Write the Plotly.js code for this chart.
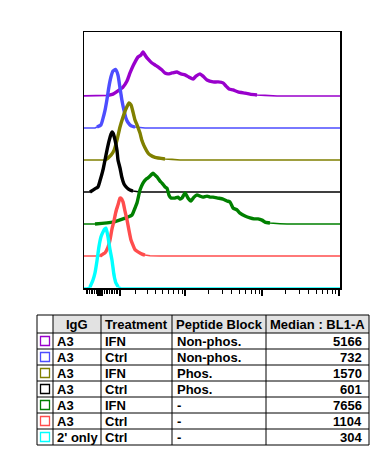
<!DOCTYPE html>
<html>
<head>
<meta charset="utf-8">
<script src="https://cdn.plot.ly/plotly-3.0.1.min.js"></script>
<style>html,body{margin:0;padding:0;background:#fff;}#chart{width:390px;height:466px;}</style>
</head>
<body>
<div id="chart"></div>
<script>
// ---- data (x in display channels 0..256, height in histogram-slot units) ----
const purpleX = [24,29,34,39,43,46,49,51,54,57,59,61,63,66,68,71,74,78,81,84,88,93,97,101,105,109,112,116,119,123,129,134,139,142,145,149,154,161,166,173,181,193];
const purpleY = [0.02,0.06,0.16,0.28,0.47,0.72,0.94,1.06,1.22,1.28,1.38,1.28,1.19,1.09,1.03,0.97,0.91,0.81,0.72,0.69,0.72,0.75,0.69,0.66,0.59,0.53,0.62,0.69,0.62,0.5,0.44,0.44,0.41,0.31,0.22,0.19,0.13,0.09,0.06,0.03,0.02,0];
const blueX = [11,13,17,19,21,23,25,27,29,31.5,34,36,38,40,42,44,47,51,61];
const blueY = [0,0.03,0.1,0.3,0.55,0.9,1.3,1.6,1.78,1.83,1.65,1.25,0.85,0.55,0.3,0.17,0.07,0.03,0];
const oliveX = [21,24,27,30,33,36,39,42,45,47,49,51,53,56,58,61,64,66,71,81,88,96];
const oliveY = [0,0.06,0.15,0.3,0.62,1.03,1.34,1.6,1.78,1.72,1.5,1.25,1.1,0.84,0.6,0.38,0.22,0.16,0.08,0.03,0.02,0];
const blackX = [6,9,12,14,16,19,21,23,25,27,28,29,31,33,34,36,38,40,43,46,49,56];
const blackY = [0,0.06,0.12,0.16,0.35,0.69,1.0,1.31,1.59,1.81,1.88,1.84,1.63,1.3,1.0,0.75,0.44,0.25,0.13,0.06,0.03,0];
const greenX = [11,29,39,44,48,51,53,56,59,62,64,67,69,71,73,76,78,81,83,85,87,89,91,94,96,98,101,104,107,110,113,116,119,123,126,129,134,139,143,146,149,153,156,161,166,170,174,178,181,186,196,203];
const greenY = [0,0.06,0.16,0.22,0.28,0.5,0.66,1.06,1.28,1.4,1.44,1.53,1.59,1.53,1.47,1.34,1.28,1.16,1.12,0.9,0.81,0.81,0.81,0.84,0.78,0.81,0.97,0.81,0.72,0.84,0.91,0.87,0.84,0.87,0.84,0.84,0.81,0.78,0.72,0.69,0.5,0.44,0.34,0.25,0.19,0.16,0.16,0.12,0.06,0.03,0.01,0];
const redX = [16,19,21,24,26,28,30,32,34,36,37,39,41,43,45,47,49,51,54,58,61,66,76];
const redY = [0,0.06,0.1,0.28,0.5,0.85,1.1,1.4,1.6,1.81,1.81,1.69,1.4,1.13,0.8,0.5,0.34,0.2,0.13,0.06,0.03,0.01,0];
const cyanX = [3,6,9,11,13,15,17,19,21,22,24,26,28,30,32,34,37,41];
const cyanY = [0,0.03,0.25,0.47,0.85,1.3,1.6,1.75,1.85,1.87,1.6,1.2,0.87,0.4,0.15,0.04,0.01,0];

const igg = ["A3","A3","A3","A3","A3","A3","2' only"];
const treatment = ["IFN","Ctrl","IFN","Ctrl","IFN","Ctrl","Ctrl"];
const peptide = ["Non-phos.","Non-phos.","Phos.","Phos.","-","-","-"];
const median = ["5166","732","1570","601","7656","1104","304"];
const headers = ["IgG","Treatment","Peptide Block","Median : BL1-A"];
const colors = ["#9900cc","#4d4dff","#808000","#000000","#008000","#ff4d4d","#00ffff"];

const majorTicks = [14.3,16,17.7,36,101,177.7,255.3];
const minorTicks = [2,3.7,5.3,7,8.7,10.3,12,20.3,22,23.7,25.3,27,28.7,30.3,32,33.7,51.7,63.3,71.7,78.3,84.3,89.7,94.7,98.7,124.7,138.3,147.7,155.7,161.7,167,171.7,175,201.7,215.3,224.7,232.7,238.7,243.7,248.3,251.7];

// ---- build ----
const series = [[purpleX,purpleY],[blueX,blueY],[oliveX,oliveY],[blackX,blackY],[greenX,greenY],[redX,redY],[cyanX,cyanY]];
const traces = [];
series.forEach((s, i) => {
  const base = 6 - i;
  const xs = s[0], ys = s[1];
  const tx = [-4].concat(xs, [260]);
  const ty = [base].concat(ys.map(v => base + v), [base]);
  traces.push({type:'scatter', mode:'lines', x:tx, y:ty, line:{color:colors[i], width:1.6}, hoverinfo:'skip', showlegend:false});
  let a = ys.findIndex(v => v >= 0.05);
  let b = ys.length - 1 - ys.slice().reverse().findIndex(v => v >= 0.03);
  a = Math.max(0, a - 1); b = Math.min(ys.length - 1, b);
  traces.push({type:'scatter', mode:'lines', x:xs.slice(a, b + 1), y:ys.slice(a, b + 1).map(v => base + v),
    line:{color:colors[i], width:3.4, shape:'spline', smoothing:0.5}, hoverinfo:'skip', showlegend:false});
});

// table geometry (pixels -> paper coords)
const L = 84, R = 340, T = 32, B = 288;
const X = px => (px - L) / (R - L);
const Y = py => (B - py) / (B - T);
const colEdges = [37, 53, 101, 172, 266, 369];
const tTop = 315, hBot = 333, rowH = 16;
const shapes = [];
const annotations = [];
const FONT = {family:'"Liberation Sans", Arial, sans-serif', size:13, color:'#000'};
shapes.push({type:'rect', xref:'paper', yref:'paper', x0:X(53), x1:X(369), y0:Y(hBot), y1:Y(tTop), fillcolor:'#e2e2e2', line:{width:0}, layer:'below'});
const tBot = hBot + rowH * igg.length;
for (let r = 0; r <= igg.length; r++) {
  const py = hBot + r * rowH;
  shapes.push({type:'line', xref:'paper', yref:'paper', x0:X(37), x1:X(369), y0:Y(py), y1:Y(py), line:{color:'#000', width:1}});
}
shapes.push({type:'line', xref:'paper', yref:'paper', x0:X(37), x1:X(369), y0:Y(tTop), y1:Y(tTop), line:{color:'#000', width:1}});
colEdges.forEach(cx => shapes.push({type:'line', xref:'paper', yref:'paper', x0:X(cx), x1:X(cx), y0:Y(tTop), y1:Y(tBot), line:{color:'#000', width:1}}));

headers.forEach((h, j) => {
  annotations.push({xref:'paper', yref:'paper', x:X((colEdges[j+1] + colEdges[j+2]) / 2), y:Y((tTop + hBot) / 2),
    text:'<b>' + h + '</b>', showarrow:false, xanchor:'center', yanchor:'middle', font:FONT});
});
igg.forEach((g, r) => {
  const cy = hBot + r * rowH + rowH / 2;
  shapes.push({type:'rect', xref:'paper', yref:'paper', x0:X(40.5), x1:X(49.5), y0:Y(cy - 4.5), y1:Y(cy + 4.5), line:{color:colors[r], width:1.3}, fillcolor:'rgba(0,0,0,0)'});
  annotations.push({xref:'paper', yref:'paper', x:X(55), y:Y(cy), text:'<b>' + g + '</b>', showarrow:false, xanchor:'left', yanchor:'middle', font:FONT});
  annotations.push({xref:'paper', yref:'paper', x:X(103), y:Y(cy), text:'<b>' + treatment[r] + '</b>', showarrow:false, xanchor:'left', yanchor:'middle', font:FONT});
  annotations.push({xref:'paper', yref:'paper', x:X(174.5), y:Y(cy), text:'<b>' + peptide[r] + '</b>', showarrow:false, xanchor:'left', yanchor:'middle', font:FONT});
  annotations.push({xref:'paper', yref:'paper', x:X(364), y:Y(cy), text:'<b>' + median[r] + '</b>', showarrow:false, xanchor:'right', yanchor:'middle', font:FONT});
});

const layout = {
  width:390, height:466,
  margin:{l:L, r:390 - R, t:T, b:466 - B, pad:0},
  paper_bgcolor:'#fff', plot_bgcolor:'#fff',
  showlegend:false,
  xaxis:{range:[0,256], showline:true, mirror:true, linecolor:'#000', linewidth:1.5, showgrid:false, zeroline:false,
    tickmode:'array', tickvals:majorTicks, ticktext:majorTicks.map(() => ''), ticks:'outside', ticklen:6, tickwidth:2, tickcolor:'#000', showticklabels:false,
    minor:{tickmode:'array', tickvals:minorTicks, ticks:'outside', ticklen:4, tickwidth:1, tickcolor:'#000', showgrid:false}, fixedrange:true},
  yaxis:{range:[0,8], showline:true, mirror:true, linecolor:'#000', linewidth:1.5, showgrid:false, zeroline:false, ticks:'', showticklabels:false, fixedrange:true},
  shapes:shapes, annotations:annotations
};
Plotly.newPlot('chart', traces, layout, {staticPlot:true, displayModeBar:false});
</script>
</body>
</html>
